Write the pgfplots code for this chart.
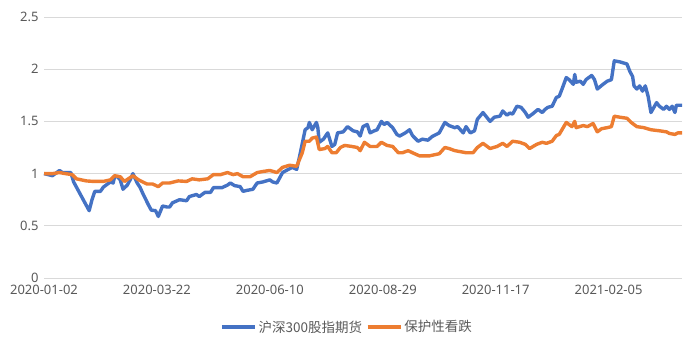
\documentclass[border=0pt]{standalone}
\usepackage{fontspec}
\setmainfont{Noto Sans}
\newfontfamily\cjk{Noto Sans CJK SC}
\usepackage{pgfplots}
\pgfplotsset{compat=1.18}
\definecolor{cblue}{HTML}{4472C4}
\definecolor{corange}{HTML}{ED7D31}
\definecolor{ctext}{HTML}{595959}
\definecolor{cgrid}{HTML}{D9D9D9}
\begin{document}
\begin{tikzpicture}
\path (0pt,0pt) rectangle (700pt,353pt);
\begin{axis}[
  at={(44pt,75pt)}, anchor=south west,
  scale only axis, width=638pt, height=261pt,
  xmin=0, xmax=452, ymin=0, ymax=2.5,
  axis line style={draw=none},
  ymajorgrids, grid style={cgrid, line width=0.9pt},
  major tick length=0pt,
  xtick={0,80,160,240,320,400},
  xticklabels={2020-01-02,2020-03-22,2020-06-10,2020-08-29,2020-11-17,2021-02-05},
  ytick={0,0.5,1,1.5,2,2.5},
  yticklabels={0,0.5,1,1.5,2,2.5},
  tick label style={font=\fontsize{13}{15}\selectfont, text=ctext},
  /pgf/number format/assume math mode=true,
  yticklabel style={anchor=east, xshift=-2pt},
  xticklabel style={anchor=north, yshift=-4pt},
  legend style={at={(0.475,-0.188)}, anchor=center, draw=none, fill=none,
    legend columns=2, font=\cjk\fontsize{13.5}{15}\selectfont, text=ctext,
    /tikz/every even column/.append style={column sep=2pt}},
  legend image code/.code={\draw[#1, line width=3.4pt] (0pt,0pt) -- (33pt,0pt);},
  clip=false,
]
\addplot[cblue, line width=3.4pt, line join=round] coordinates {
(0,1.0) (6,0.98) (11,1.03) (13,1.01) (17,1.01) (19,1.01) (21,0.92) (32,0.645)
(34,0.75) (36,0.83) (40,0.83) (42,0.87) (47,0.92) (49,0.91) (50,0.97) (52,0.97)
(54,0.94) (56,0.85) (59,0.89) (61,0.94) (63,1.0) (66,0.91) (68,0.87) (70,0.81)
(74,0.70) (76,0.65) (79,0.645) (81,0.59) (84,0.69) (87,0.68) (89,0.68) (91,0.72)
(96,0.75) (101,0.74) (103,0.78) (108,0.80) (110,0.78) (114,0.82) (118,0.82) (120,0.865)
(126,0.865) (130,0.89) (132,0.91) (135,0.885) (139,0.875) (141,0.83) (144,0.84) (148,0.85)
(151,0.91) (155,0.92) (160,0.94) (162,0.92) (165,0.91) (167,0.96) (169,1.01) (173,1.04)
(176,1.06) (179,1.04) (181,1.16) (185,1.42) (187,1.44) (188,1.49) (190,1.42) (193,1.49)
(194,1.44) (195,1.30) (198,1.33) (201,1.39) (204,1.26) (206,1.28) (208,1.39) (212,1.40)
(215,1.45) (219,1.41) (222,1.40) (224,1.36) (226,1.45) (229,1.47) (231,1.39) (234,1.41)
(236,1.42) (239,1.50) (241,1.47) (243,1.49) (247,1.44) (250,1.375) (252,1.36) (256,1.39)
(259,1.42) (261,1.365) (265,1.31) (268,1.33) (272,1.32) (275,1.355) (280,1.39) (284,1.49)
(287,1.46) (291,1.44) (293,1.45) (297,1.39) (299,1.45) (302,1.39) (305,1.41) (307,1.52)
(311,1.585) (316,1.50) (319,1.54) (323,1.55) (325,1.60) (328,1.56) (330,1.58) (332,1.57)
(335,1.645) (338,1.635) (341,1.585) (343,1.54) (346,1.57) (350,1.615) (353,1.585) (355,1.615)
(357,1.635) (360,1.645) (363,1.73) (365,1.74) (367,1.81) (370,1.92) (372,1.90) (375,1.855)
(376,1.95) (377,1.875) (380,1.885) (382,1.855) (384,1.90) (388,1.94) (390,1.90) (392,1.81)
(396,1.855) (399,1.885) (402,1.90) (404,2.08) (408,2.07) (413,2.05) (415,1.98) (417,1.93)
(418,1.84) (420,1.81) (422,1.84) (424,1.79) (426,1.84) (428,1.74) (430,1.585) (434,1.68)
(436,1.645) (439,1.615) (441,1.645) (443,1.615) (445,1.645) (447,1.585) (448,1.655) (452,1.655)
};
\addlegendentry{沪深300股指期货}
\addplot[corange, line width=3.4pt, line join=round] coordinates {
(0,1.0) (6,1.0) (11,1.01) (15,1.0) (20,0.99) (23,0.95) (30,0.93) (35,0.925)
(42,0.925) (47,0.94) (50,0.98) (54,0.97) (57,0.925) (63,0.98) (67,0.94) (73,0.90)
(77,0.90) (81,0.875) (84,0.91) (89,0.91) (95,0.93) (101,0.925) (105,0.95) (110,0.94)
(116,0.95) (120,0.99) (125,0.99) (130,1.01) (134,0.99) (137,1.0) (141,0.97) (146,0.97)
(151,1.01) (155,1.02) (160,1.03) (165,1.01) (169,1.06) (174,1.08) (179,1.07) (183,1.20)
(185,1.31) (188,1.31) (190,1.34) (193,1.35) (195,1.23) (199,1.24) (201,1.26) (204,1.20)
(207,1.20) (210,1.25) (213,1.27) (218,1.26) (222,1.25) (224,1.22) (227,1.30) (231,1.26)
(236,1.26) (239,1.30) (243,1.27) (247,1.26) (251,1.20) (254,1.20) (258,1.22) (261,1.20)
(266,1.17) (273,1.17) (280,1.19) (284,1.25) (287,1.24) (291,1.22) (295,1.21) (299,1.20)
(304,1.20) (307,1.25) (311,1.29) (316,1.24) (321,1.26) (325,1.29) (328,1.26) (332,1.31)
(337,1.30) (341,1.28) (344,1.24) (349,1.28) (353,1.30) (356,1.29) (360,1.31) (363,1.365)
(365,1.375) (370,1.49) (374,1.45) (376,1.50) (377,1.44) (382,1.46) (385,1.45) (389,1.48)
(392,1.40) (395,1.43) (399,1.44) (402,1.45) (404,1.55) (408,1.54) (413,1.53) (416,1.49)
(420,1.45) (425,1.44) (430,1.42) (436,1.41) (441,1.40) (443,1.385) (447,1.375) (449,1.39)
(452,1.39)
};
\addlegendentry{保护性看跌}
\end{axis}
\end{tikzpicture}
\end{document}
